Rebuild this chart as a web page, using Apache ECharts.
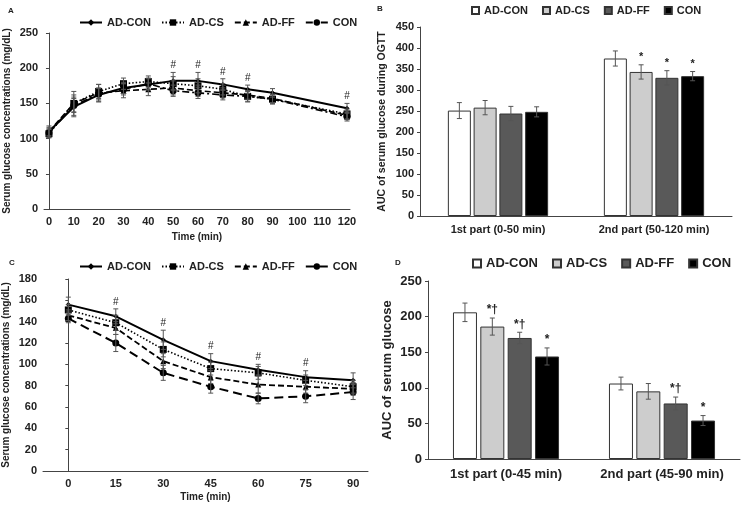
<!DOCTYPE html>
<html>
<head>
<meta charset="utf-8">
<script src="https://cdn.jsdelivr.net/npm/echarts@6/dist/echarts.min.js"></script>
<style>
  html, body { margin: 0; padding: 0; background: #fff; }
  #chart { width: 745px; height: 505px; }
</style>
</head>
<body>
<div id="chart"></div>
<script>
// ---- data ----
const groups = ['AD-CON', 'AD-CS', 'AD-FF', 'CON']

// A: OGTT curve
const aTimes = [0, 10, 20, 30, 40, 50, 60, 70, 80, 90, 120]
const aTicks = [0, 10, 20, 30, 40, 50, 60, 70, 80, 90, 100, 110, 120]
const aAdCon = [110, 145, 162, 172, 177, 182, 182, 177, 170, 165, 143]
const aAdCs = [107, 150, 167, 178, 181, 178, 175, 170, 160, 156, 135]
const aAdFf = [110, 150, 165, 168, 170, 172, 168, 165, 162, 157, 133]
const aCon = [108, 147, 163, 170, 178, 168, 165, 162, 160, 156, 131]
const aAdConErr = [8, 14, 10, 8, 8, 12, 12, 8, 6, 6, 7]
const aAdCsErr = [6, 17, 10, 8, 8, 10, 10, 8, 7, 6, 7]
const aAdFfErr = [6, 12, 12, 10, 9, 10, 8, 7, 6, 6, 6]
const aConErr = [6, 10, 8, 8, 8, 8, 8, 7, 8, 7, 6]
const aSig = ['', '', '', '', '', '#', '#', '#', '#', '', '#']

// B: AUC during OGTT
const bCats = ['1st part (0-50 min)', '2nd part (50-120 min)']
const bMeans = [[251, 375], [258, 343], [244, 329], [248, 333]]
const bErrs = [[19, 18], [17, 17], [17, 17], [12, 11]]
const bSigs = [['', ''], ['', '*'], ['', '*'], ['', '*']]

// C: ITT curve
const cTimes = [0, 15, 30, 45, 60, 75, 90]
const cAdCon = [156, 145, 123, 103, 95, 88, 85]
const cAdCs = [151, 139, 114, 96, 92, 85, 79]
const cAdFf = [146, 134, 103, 88, 81, 79, 77]
const cCon = [143, 120, 92, 79, 68, 70, 74]
const cAdConErr = [7, 7, 9, 7, 5, 6, 7]
const cAdCsErr = [5, 7, 7, 6, 6, 5, 6]
const cAdFfErr = [5, 6, 7, 6, 8, 6, 6]
const cConErr = [4, 8, 7, 6, 5, 6, 7]
const cSig = ['', '#', '#', '#', '#', '#', '']

// D: AUC of serum glucose
const dCats = ['1st part (0-45 min)', '2nd part (45-90 min)']
const dMeans = [[206, 106], [186, 95], [170, 78], [144, 54]]
const dErrs = [[13, 9], [12, 11], [8, 9], [12, 7]]
const dSigs = [['', ''], ['*†', ''], ['*†', '*†'], ['*', '*']]

// ---- styles ----
const FONT = '"Liberation Sans", Arial, sans-serif'
const barColors = ['#ffffff', '#cdcdcd', '#595959', '#000000']
const lineStylesA = [
  { type: 'solid', width: 2 },
  { type: [1.5, 2], width: 1.6 },
  { type: [6, 3], width: 1.6 },
  { type: [7, 3, 2, 3], width: 1.6 }
]
const lineStylesC = [
  { type: 'solid', width: 2 },
  { type: [1.5, 2], width: 1.6 },
  { type: [6, 3], width: 1.8 },
  { type: [9, 5], width: 2 }
]
const symbols = ['diamond', 'rect', 'triangle', 'circle']
const symbolSizes = [5, 7, 6, 7]

// 误差线 + 显著性标记
function errRender(sigs, dx, capW, sigFont) {
  return function (params, api) {
    const x = api.value(0)
    const m = api.value(1)
    const e = api.value(2)
    const p1 = api.coord([x, m + e])
    const p2 = api.coord([x, m - e])
    const cx = p1[0] + dx
    const st = { stroke: '#555', lineWidth: 1 }
    const children = [
      { type: 'line', shape: { x1: cx, y1: p1[1], x2: cx, y2: p2[1] }, style: st },
      { type: 'line', shape: { x1: cx - capW, y1: p1[1], x2: cx + capW, y2: p1[1] }, style: st },
      { type: 'line', shape: { x1: cx - capW, y1: p2[1], x2: cx + capW, y2: p2[1] }, style: st }
    ]
    const s = sigs ? sigs[params.dataIndex] : ''
    if (s) {
      children.push({
        type: 'text',
        style: {
          text: s, x: cx, y: p1[1] - 2,
          textAlign: 'center', textVerticalAlign: 'bottom',
          font: sigFont, fill: '#222'
        }
      })
    }
    return { type: 'group', children: children }
  }
}

function lineSeries(prefix, xs, vals, i, styles, axisIdx) {
  return {
    name: prefix + '|' + groups[i],
    type: 'line',
    xAxisIndex: axisIdx,
    yAxisIndex: axisIdx,
    data: xs.map((t, k) => [t, vals[k]]),
    symbol: symbols[i],
    symbolSize: symbolSizes[i],
    itemStyle: { color: '#000' },
    lineStyle: Object.assign({ color: '#000' }, styles[i]),
    z: 3
  }
}

function errSeries(xs, vals, errs, axisIdx, sigs, dx, capW, sigFont) {
  return {
    type: 'custom',
    xAxisIndex: axisIdx,
    yAxisIndex: axisIdx,
    data: xs.map((t, k) => [t, vals[k], errs[k]]),
    encode: { x: 0, y: 1 },
    renderItem: errRender(sigs, dx, capW, sigFont),
    z: 4,
    silent: true
  }
}

const series = []
// A
const aVals = [aAdCon, aAdCs, aAdFf, aCon]
const aErrs = [aAdConErr, aAdCsErr, aAdFfErr, aConErr]
aVals.forEach((v, i) => {
  series.push(lineSeries('A', aTimes, v, i, lineStylesA, 0))
  series.push(errSeries(aTimes, v, aErrs[i], 0, i === 0 ? aSig : null, 0, 2.5, '10px ' + FONT))
})
// C
const cVals = [cAdCon, cAdCs, cAdFf, cCon]
const cErrs = [cAdConErr, cAdCsErr, cAdFfErr, cConErr]
cVals.forEach((v, i) => {
  series.push(lineSeries('C', cTimes, v, i, lineStylesC, 2))
  series.push(errSeries(cTimes, v, cErrs[i], 2, i === 0 ? cSig : null, 0, 2.5, '10px ' + FONT))
})
// B / D bars
function barPanel(prefix, means, errs, sigs, axisIdx, bw, gapRatio, sigFont) {
  means.forEach((v, i) => {
    series.push({
      name: prefix + '|' + groups[i],
      type: 'bar',
      xAxisIndex: axisIdx,
      yAxisIndex: axisIdx,
      data: v,
      barWidth: bw,
      barGap: gapRatio * 100 + '%',
      itemStyle: { color: barColors[i], borderColor: '#333', borderWidth: 1 },
      z: 2
    })
  })
  const step = bw * (1 + gapRatio)
  means.forEach((v, i) => {
    series.push(errSeries([0, 1], v, errs[i], axisIdx, sigs[i], (i - 1.5) * step, 2.5, sigFont))
  })
}
barPanel('B', bMeans, bErrs, bSigs, 1, 23, 0.12, 'bold 11px ' + FONT)
barPanel('D', dMeans, dErrs, dSigs, 3, 24, 0.14, 'bold 12px ' + FONT)

// ---- axes ----
const axisLine = { show: true, lineStyle: { color: '#444', width: 1 } }
function labelStyle(size) {
  return { color: '#222', fontFamily: FONT, fontWeight: 'bold', fontSize: size }
}
function nameStyle(size) {
  return { color: '#222', fontFamily: FONT, fontWeight: 'bold', fontSize: size }
}

const option = {
  animation: false,
  backgroundColor: '#fff',
  title: [
    { text: 'A', left: 3, top: 2, textStyle: { fontSize: 8, fontWeight: 'bold', fontFamily: FONT, color: '#222' } },
    { text: 'B', left: 372, top: 0, textStyle: { fontSize: 8, fontWeight: 'bold', fontFamily: FONT, color: '#222' } },
    { text: 'C', left: 4, top: 254, textStyle: { fontSize: 8, fontWeight: 'bold', fontFamily: FONT, color: '#222' } },
    { text: 'D', left: 390, top: 254, textStyle: { fontSize: 8, fontWeight: 'bold', fontFamily: FONT, color: '#222' } }
  ],
  legend: [
    {
      data: groups.map((g) => 'A|' + g), formatter: (n) => n.split('|')[1],
      left: 74, top: 12, itemWidth: 22, itemHeight: 8, itemGap: 10,
      textStyle: labelStyle(11)
    },
    {
      data: groups.map((g) => 'B|' + g), formatter: (n) => n.split('|')[1],
      left: 466, top: 0, icon: 'rect', itemWidth: 7, itemHeight: 7, itemGap: 14,
      textStyle: labelStyle(11)
    },
    {
      data: groups.map((g) => 'C|' + g), formatter: (n) => n.split('|')[1],
      left: 74, top: 256, itemWidth: 22, itemHeight: 8, itemGap: 10,
      textStyle: labelStyle(11)
    },
    {
      data: groups.map((g) => 'D|' + g), formatter: (n) => n.split('|')[1],
      left: 467, top: 252, icon: 'rect', itemWidth: 8, itemHeight: 8, itemGap: 14,
      textStyle: labelStyle(13)
    }
  ],
  grid: [
    { left: 44, top: 33, width: 306, height: 176 },
    { left: 420, top: 27, width: 312, height: 189 },
    { left: 43, top: 279, width: 325, height: 192 },
    { left: 428, top: 281, width: 312, height: 178 }
  ],
  xAxis: [
    {
      gridIndex: 0, type: 'value', min: -2, max: 121.2,
      axisLine: axisLine, axisTick: { show: false }, splitLine: { show: false },
      axisLabel: Object.assign({ customValues: aTicks, margin: 7 }, labelStyle(11)),
      name: 'Time (min)', nameLocation: 'middle', nameGap: 23, nameTextStyle: nameStyle(10)
    },
    {
      gridIndex: 1, type: 'category', data: bCats,
      axisLine: axisLine, axisTick: { show: false }, splitLine: { show: false },
      axisLabel: Object.assign({ margin: 8, interval: 0 }, labelStyle(11))
    },
    {
      gridIndex: 2, type: 'value', min: -8, max: 94.7,
      axisLine: axisLine, axisTick: { show: false }, splitLine: { show: false },
      axisLabel: Object.assign({ customValues: cTimes, margin: 7 }, labelStyle(11)),
      name: 'Time (min)', nameLocation: 'middle', nameGap: 21, nameTextStyle: nameStyle(10)
    },
    {
      gridIndex: 3, type: 'category', data: dCats,
      axisLine: axisLine, axisTick: { show: false }, splitLine: { show: false },
      axisLabel: Object.assign({ margin: 9, interval: 0 }, labelStyle(13))
    }
  ],
  yAxis: [
    {
      gridIndex: 0, type: 'value', min: 0, max: 250, interval: 50,
      axisLine: axisLine, axisTick: { show: true, length: 3, lineStyle: { color: '#444' } },
      splitLine: { show: false }, axisLabel: Object.assign({ margin: 6 }, labelStyle(11)),
      name: 'Serum glucose concentrations (mg/dL)', nameLocation: 'middle', nameGap: 32,
      nameTextStyle: nameStyle(10)
    },
    {
      gridIndex: 1, type: 'value', min: 0, max: 450, interval: 50,
      axisLine: axisLine, axisTick: { show: true, length: 3, lineStyle: { color: '#444' } },
      splitLine: { show: false }, axisLabel: Object.assign({ margin: 6 }, labelStyle(11)),
      name: 'AUC of serum glucose during OGTT', nameLocation: 'middle', nameGap: 32,
      nameTextStyle: nameStyle(10.5)
    },
    {
      gridIndex: 2, type: 'value', min: 0, max: 180, interval: 20,
      axisLine: axisLine, axisTick: { show: true, length: 3, lineStyle: { color: '#444' } },
      splitLine: { show: false }, axisLabel: Object.assign({ margin: 6 }, labelStyle(11)),
      name: 'Serum glucose concentrations (mg/dL)', nameLocation: 'middle', nameGap: 32,
      nameTextStyle: nameStyle(10)
    },
    {
      gridIndex: 3, type: 'value', min: 0, max: 250, interval: 50,
      axisLine: axisLine, axisTick: { show: true, length: 3, lineStyle: { color: '#444' } },
      splitLine: { show: false }, axisLabel: Object.assign({ margin: 6 }, labelStyle(13)),
      name: 'AUC of serum glucose', nameLocation: 'middle', nameGap: 34,
      nameTextStyle: nameStyle(13)
    }
  ],
  series: series
}

const chart = echarts.init(document.getElementById('chart'))
chart.setOption(option)
</script>
</body>
</html>
